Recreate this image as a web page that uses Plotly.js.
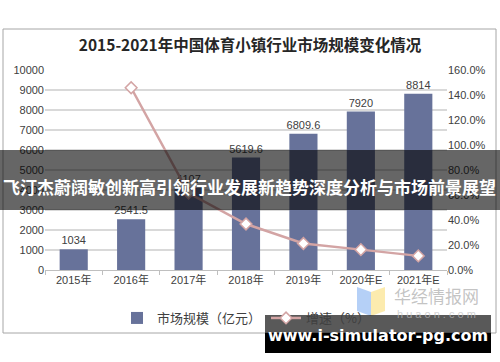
<!DOCTYPE html>
<html>
<head>
<meta charset="utf-8">
<script src="https://cdn.plot.ly/plotly-3.0.1.min.js"></script>
<style>html,body{margin:0;padding:0;background:#fff;}#chart{width:500px;height:362px;}</style>
</head>
<body>
<div id="chart"></div>
<script>
const years = ["2015年", "2016年", "2017年", "2018年", "2019年", "2020年E", "2021年E"];
const marketSize = [1034, 2541.5, 4107, 5619.6, 6809.6, 7920, 8814];
const marketLabels = ["1034", "2541.5", "4107", "5619.6", "6809.6", "7920", "8814"];
const growthYears = ["2016年", "2017年", "2018年", "2019年", "2020年E", "2021年E"];
const growthRate = [1.458, 0.616, 0.368, 0.212, 0.163, 0.113];

// plot area in pixels: x 45..447, y 70..270
const PL = 45, PR = 447, PT = 70, PB = 270;
const px = v => (v - PL) / (PR - PL);
const py = v => (PB - v) / (PB - PT);

const font = "Liberation Sans, Arial, Noto Sans CJK SC, sans-serif";
const cjk = "Noto Sans CJK SC, sans-serif";

const traces = [
  {
    type: "bar", name: "市场规模（亿元）", x: years, y: marketSize,
    text: marketLabels, textposition: "outside", cliponaxis: false, constraintext: "none",
    textfont: {family: font, size: 11, color: "#404040"},
    marker: {color: "#67729a"}, hoverinfo: "skip"
  },
  {
    type: "scatter", mode: "lines+markers", name: "增速（%）",
    x: growthYears, y: growthRate, yaxis: "y2",
    line: {color: "#d3a4a4", width: 2.5},
    marker: {symbol: "diamond", size: 9, color: "#ffffff", line: {color: "#d3a4a4", width: 1.5}},
    hoverinfo: "skip"
  }
];

const layout = {
  width: 500, height: 362,
  margin: {l: PL, r: 500 - PR, t: PT, b: 362 - PB},
  paper_bgcolor: "#ffffff", plot_bgcolor: "#ffffff",
  showlegend: true,
  bargap: 0.51,
  uniformtext: {mode: false},
  title: {
    text: "<b>2015-2021年中国体育小镇行业市场规模变化情况</b>",
    font: {family: cjk, size: 15.5, color: "#262626"},
    x: 0.5, xanchor: "center", y: 1 - 46 / 362, yanchor: "middle", yref: "container"
  },
  xaxis: {
    type: "category", showgrid: false, zeroline: false,
    showline: true, linecolor: "#bfbfbf", linewidth: 1,
    ticks: "outside", tickson: "boundaries", ticklen: 4, tickcolor: "#bfbfbf",
    tickfont: {family: font, size: 11, color: "#404040"}, fixedrange: true
  },
  yaxis: {
    range: [0, 10000], dtick: 1000, tickformat: "d", showgrid: true, gridcolor: "#d9d9d9", gridwidth: 1.5,
    zeroline: false, showline: false, ticks: "",
    tickfont: {family: font, size: 11, color: "#404040"}, fixedrange: true
  },
  yaxis2: {
    overlaying: "y", side: "right", range: [0, 1.6], dtick: 0.2, tickformat: ".1%",
    showgrid: false, zeroline: false, showline: false, ticks: "",
    tickfont: {family: font, size: 11, color: "#404040"}, fixedrange: true
  },
  legend: {
    orientation: "h", x: 0.5, xanchor: "center", y: py(318), yanchor: "middle",
    font: {family: cjk, size: 13, color: "#404040"}, bgcolor: "rgba(0,0,0,0)",
    itemwidth: 30, tracegroupgap: 0
  },
  shapes: [
    {type: "rect", xref: "paper", yref: "paper", layer: "below",
     x0: px(3), x1: px(496), y0: py(333), y1: py(29),
     line: {color: "#a6a6a6", width: 1}, fillcolor: "rgba(0,0,0,0)"},
    // banner overlay
    {type: "rect", xref: "paper", yref: "paper", layer: "above",
     x0: px(0), x1: px(500), y0: py(210), y1: py(150),
     line: {width: 0}, fillcolor: "rgba(0,0,0,0.6)"},
    // logo icon
    {type: "path", xref: "paper", yref: "paper", layer: "above",
     path: `M ${px(357)} ${py(287)} L ${px(371)} ${py(292)} L ${px(371)} ${py(316)} L ${px(357)} ${py(311)} Z`,
     line: {width: 0}, fillcolor: "rgba(120,170,240,0.55)"},
    {type: "path", xref: "paper", yref: "paper", layer: "above",
     path: `M ${px(371)} ${py(292)} L ${px(385)} ${py(287)} L ${px(385)} ${py(311)} L ${px(371)} ${py(316)} Z`,
     line: {width: 0}, fillcolor: "rgba(250,225,130,0.65)"},
    // watermark box
    {type: "rect", xref: "paper", yref: "paper", layer: "above",
     x0: px(265), x1: px(491), y0: py(333), y1: py(315),
     line: {width: 0}, fillcolor: "rgba(0,0,0,0.65)"},
    {type: "rect", xref: "paper", yref: "paper", layer: "above",
     x0: px(265), x1: px(491), y0: py(353), y1: py(333),
     line: {width: 0}, fillcolor: "#000000"}
  ],
  annotations: [
    {xref: "paper", yref: "paper", x: px(250), y: py(186), xanchor: "center", yanchor: "middle",
     text: "<b>飞汀杰蔚阔敏创新高引领行业发展新趋势深度分析与市场前景展望</b>", showarrow: false,
     font: {family: cjk, size: 17, color: "#ffffff"}},
    {xref: "paper", yref: "paper", x: px(436), y: py(295), xanchor: "center", yanchor: "middle",
     text: "华经情报网", showarrow: false,
     font: {family: cjk, size: 17, color: "rgba(170,170,170,0.7)"}},
    {xref: "paper", yref: "paper", x: px(436), y: py(314), xanchor: "center", yanchor: "middle",
     text: "h u a o n . c o m", showarrow: false,
     font: {family: font, size: 11, color: "rgba(190,190,190,0.7)"}},
    {xref: "paper", yref: "paper", x: px(378), y: py(335), xanchor: "center", yanchor: "middle",
     text: "<b>www.i-simulator-pg.com</b>", showarrow: false,
     font: {family: "DejaVu Sans, sans-serif", size: 16, color: "#ffffff"}}
  ]
};

Plotly.newPlot("chart", traces, layout, {displayModeBar: false, staticPlot: true});
</script>
</body>
</html>
